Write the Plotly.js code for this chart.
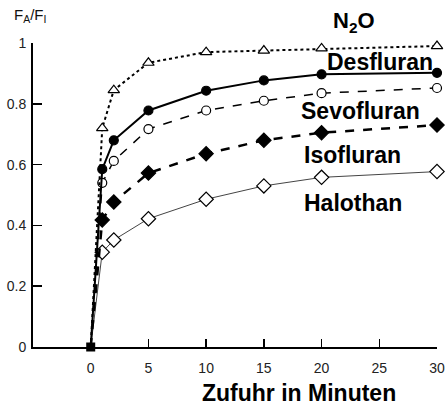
<!DOCTYPE html>
<html><head><meta charset="utf-8">
<script src="https://cdn.plot.ly/plotly-3.0.1.min.js"></script>
<style>html,body{margin:0;padding:0;background:#fff}#chart{width:445px;height:406px}</style>
</head><body><div id="chart"></div>
<script>
const minutes = [0, 1, 2, 5, 10, 15, 20, 30];
const n2o        = [0, 0.72, 0.845, 0.935, 0.97, 0.975, 0.982, 0.99];
const desfluran  = [0, 0.585, 0.68, 0.778, 0.843, 0.877, 0.897, 0.902];
const sevofluran = [0, 0.54, 0.612, 0.717, 0.778, 0.81, 0.835, 0.852];
const isofluran  = [0, 0.418, 0.477, 0.572, 0.636, 0.68, 0.705, 0.73];
const halothan   = [0, 0.312, 0.352, 0.422, 0.486, 0.53, 0.558, 0.577];
const xTicks = [0, 5, 10, 15, 20, 25, 30];
const yTicks = [0, 0.2, 0.4, 0.6, 0.8, 1];
const yTickLabels = ['0', '0.2', '0.4', '0.6', '0.8', '1'];

const sizes = s => minutes.map(t => t === 0 ? 0 : s);
function series(y, symbol, fill, dash, width, lineColor, msize) {
  return {
    x: minutes, y: y, type: 'scatter', mode: 'lines+markers',
    line: {color: lineColor, width: width, dash: dash},
    marker: {symbol: symbol, size: sizes(msize), color: fill, opacity: 1, line: {color: '#000', width: 1.2}},
    cliponaxis: false, hoverinfo: 'skip'
  };
}
const data = [
  series(halothan, 'diamond', '#fff', 'solid', 1, '#444', 11),
  series(isofluran, 'diamond', '#000', 'dash', 2.5, '#000', 11),
  series(sevofluran, 'circle', '#fff', 'dash', 1.5, '#000', 9),
  series(desfluran, 'circle', '#000', 'solid', 2, '#000', 9),
  series(n2o, 'triangle-up', '#fff', 'dot', 2, '#000', 10),
  {x: [minutes[0]], y: [desfluran[0]], type: 'scatter', mode: 'markers',
   marker: {symbol: 'square', size: 9, color: '#000', opacity: 1}, cliponaxis: false, hoverinfo: 'skip'}
];
const font = 'Liberation Sans, Arial, sans-serif';
function label(text, x, y, size) {
  return {text: '<b>' + text + '</b>', xref: 'paper', yref: 'paper', x: x, y: y,
          xanchor: 'center', yanchor: 'middle', showarrow: false,
          font: {family: font, size: size, color: '#000'}};
}
const layout = {
  width: 445, height: 406,
  margin: {l: 33, r: 8, t: 43, b: 59},
  paper_bgcolor: '#fff', plot_bgcolor: '#fff',
  showlegend: false,
  font: {family: font, color: '#111'},
  xaxis: {
    range: [-5, 30], tickvals: xTicks, ticks: 'inside', ticklen: 8, tickwidth: 1.5,
    tickcolor: '#000', showline: true, linecolor: '#000', linewidth: 2,
    showgrid: false, zeroline: false, tickfont: {size: 14, color: '#222'},
    ticklabelstandoff: 7
  },
  yaxis: {
    range: [0, 1], tickvals: yTicks, ticktext: yTickLabels, ticks: 'inside', ticklen: 9,
    tickwidth: 1.5, tickcolor: '#000', showline: true, linecolor: '#000', linewidth: 2,
    showgrid: false, zeroline: false, tickfont: {size: 14, color: '#222'},
    ticklabelstandoff: 2
  },
  annotations: [
    {text: 'F<sub>A</sub>/F<sub>I</sub>', xref: 'paper', yref: 'paper', x: -0.007, y: 1.092,
     xanchor: 'center', yanchor: 'middle', showarrow: false, font: {family: font, size: 15, color: '#111'}},
    label('Zufuhr in Minuten', 0.658, -0.152, 23),
    label('N<sub>2</sub>O', 0.795, 1.07, 22),
    label('Desfluran', 0.86, 0.937, 23),
    label('Sevofluran', 0.81, 0.775, 23),
    label('Isofluran', 0.792, 0.632, 23),
    label('Halothan', 0.792, 0.475, 23)
  ]
};
Plotly.newPlot('chart', data, layout, {staticPlot: true, displayModeBar: false});
</script></body></html>
